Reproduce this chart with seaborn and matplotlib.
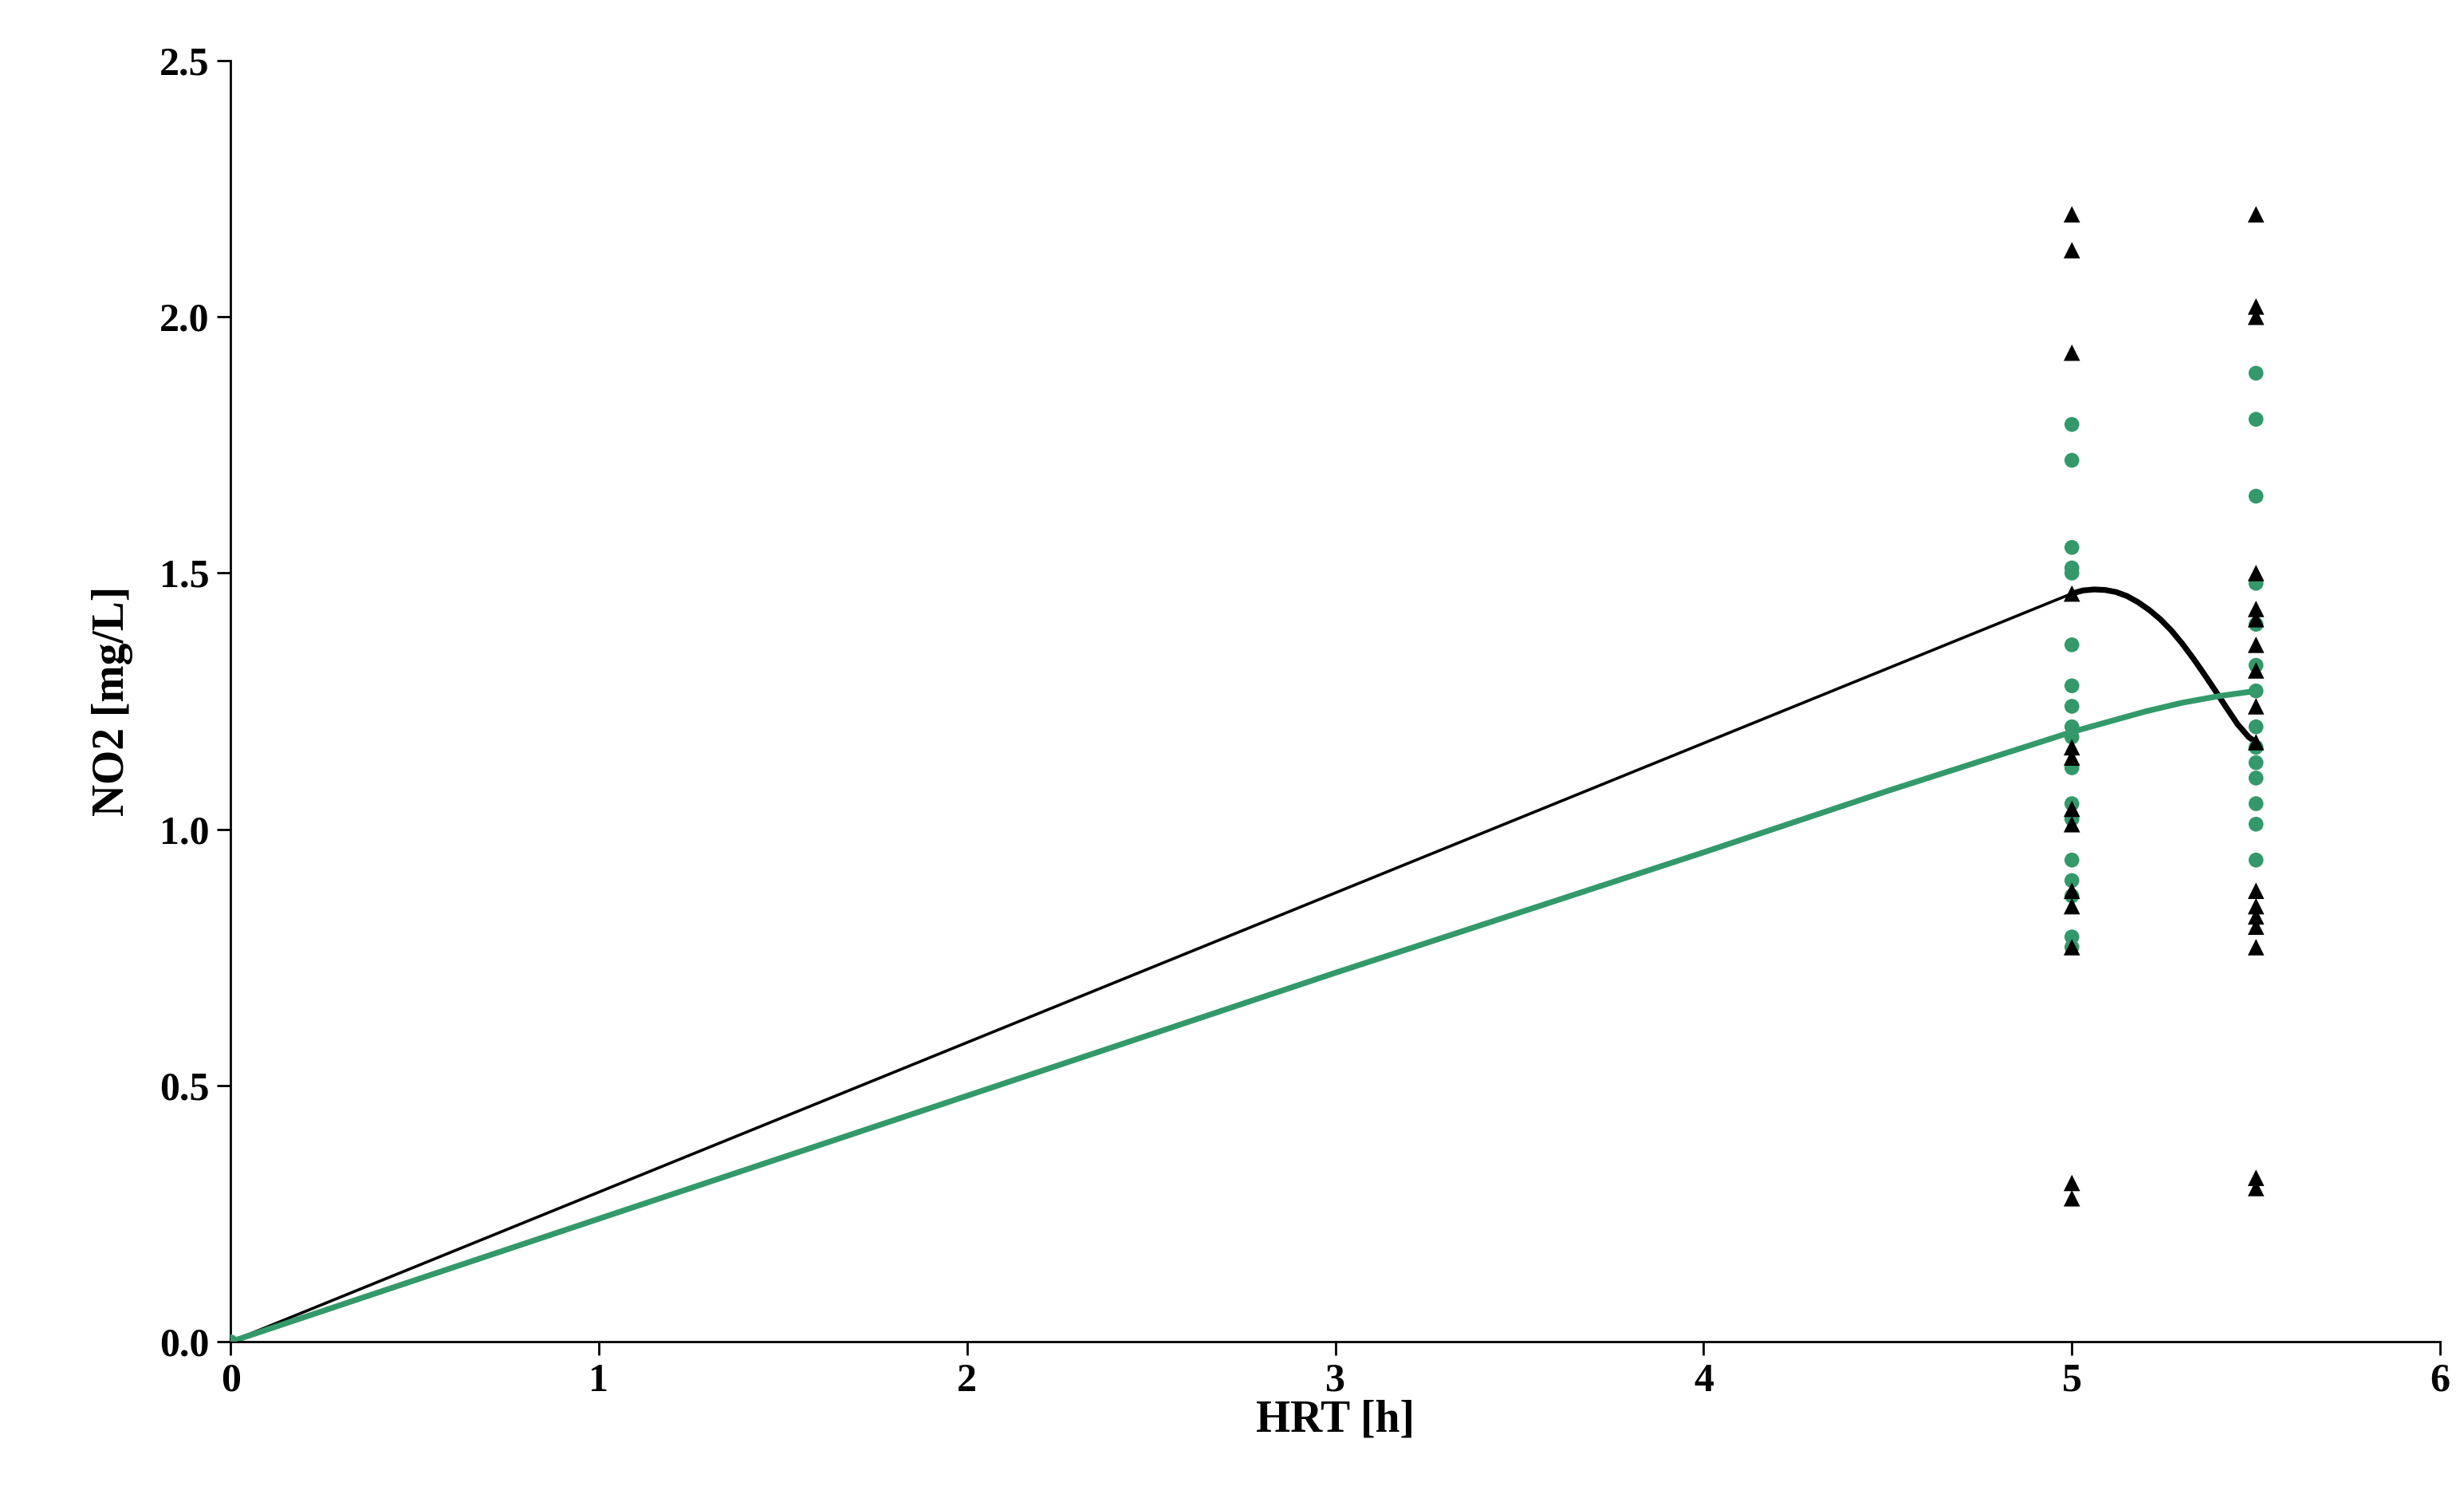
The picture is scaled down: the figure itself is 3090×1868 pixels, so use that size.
import numpy as np
import pandas as pd
import matplotlib
matplotlib.use('Agg')
import matplotlib.pyplot as plt
import seaborn as sns

sns.set_style('white')
plt.rcParams['font.family'] = ['Liberation Serif', 'DejaVu Serif']
plt.rcParams['text.color'] = 'black'
plt.rcParams['axes.labelcolor'] = 'black'
plt.rcParams['xtick.color'] = 'black'
plt.rcParams['ytick.color'] = 'black'

# measured NO2 at HRT 5 h and 5.5 h
tri_x5 = [2.20, 2.13, 1.93, 1.46, 1.16, 1.14, 1.04, 1.01, 0.88, 0.85, 0.77, 0.31, 0.28]
tri_x55 = [2.20, 2.02, 2.00, 1.50, 1.43, 1.41, 1.36, 1.31, 1.24, 1.17, 0.88, 0.85, 0.83, 0.81, 0.77, 0.32, 0.30]
dot_x5 = [1.79, 1.72, 1.55, 1.51, 1.50, 1.36, 1.28, 1.24, 1.20, 1.18, 1.12, 1.05, 1.02, 0.94, 0.90, 0.87, 0.79, 0.77]
dot_x55 = [1.89, 1.80, 1.65, 1.48, 1.40, 1.32, 1.27, 1.20, 1.16, 1.13, 1.10, 1.05, 1.01, 0.94]

# fitted curves
black_lin_x = [0, 5.0]
black_lin_y = [0, 1.46]
black_tail_x = [5.0, 5.03, 5.06, 5.09, 5.12, 5.15, 5.18, 5.21, 5.24, 5.27, 5.30, 5.33, 5.36, 5.39, 5.42, 5.45, 5.48, 5.5]
black_tail_y = [1.460, 1.466, 1.468, 1.467, 1.463, 1.455, 1.443, 1.428, 1.410, 1.388, 1.362, 1.333, 1.302, 1.270, 1.237, 1.205, 1.180, 1.170]
green_x = [0, 1, 2, 3, 4, 4.5, 5.0, 5.1, 5.2, 5.3, 5.4, 5.5]
green_y = [0, 0.24, 0.48, 0.72, 0.955, 1.075, 1.19, 1.21, 1.23, 1.247, 1.26, 1.27]

green = '#33996b'

tri = pd.DataFrame({'x': [5.0] * len(tri_x5) + [5.5] * len(tri_x55), 'y': tri_x5 + tri_x55})
dots = pd.DataFrame({'x': [0.0] + [5.0] * len(dot_x5) + [5.5] * len(dot_x55), 'y': [0.0] + dot_x5 + dot_x55})

fig = plt.figure(figsize=(15.45, 9.34), dpi=200)
ax = fig.add_axes([145 / 1550, 1 - 842 / 935, (1535 - 145) / 1550, (842 - 38) / 935])

sns.lineplot(x=black_lin_x, y=black_lin_y, color='black', lw=1.3, ax=ax)
sns.lineplot(x=black_tail_x, y=black_tail_y, color='black', lw=2.6, ax=ax)
sns.lineplot(x=green_x, y=green_y, color=green, lw=2.6, ax=ax)
sns.scatterplot(data=dots, x='x', y='y', color=green, marker='o', s=45, edgecolor='none', ax=ax, zorder=3)
sns.scatterplot(data=tri, x='x', y='y', color='black', marker='^', s=55, edgecolor='none', ax=ax, zorder=4)

ax.set_xlim(0, 6)
ax.set_ylim(0, 2.5)
ax.set_xticks(range(7))
ax.set_yticks(np.arange(0, 2.51, 0.5))
ax.set_yticklabels([f'{v:.1f}' for v in np.arange(0, 2.51, 0.5)])
for lab in ax.get_xticklabels() + ax.get_yticklabels():
    lab.set_fontweight('bold')
    lab.set_fontsize(18)
ax.tick_params(direction='out', length=6, width=1, color='black', bottom=True, left=True)
sns.despine(ax=ax)
for s in ['left', 'bottom']:
    ax.spines[s].set_color('black')
    ax.spines[s].set_linewidth(1)
ax.set_xlabel('HRT [h]', fontsize=20, fontweight='bold', labelpad=0)
ax.set_ylabel('NO2 [mg/L]', fontsize=20, fontweight='bold', labelpad=12)

fig.savefig('out.png', dpi=200)
